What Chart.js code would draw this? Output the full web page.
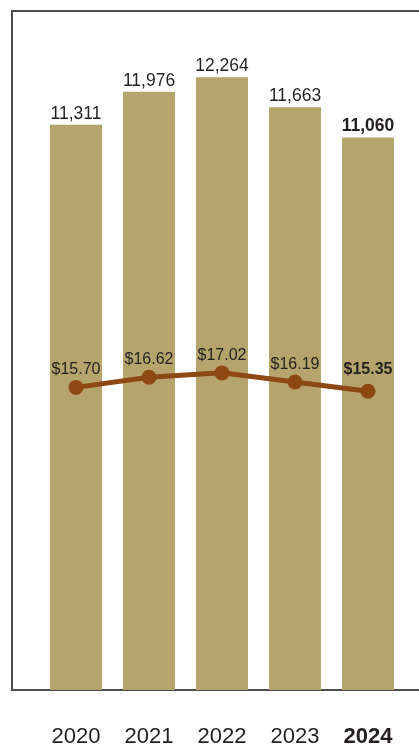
<!DOCTYPE html>
<html>
<head>
<meta charset="utf-8">
<script src="https://cdn.jsdelivr.net/npm/chart.js@4.4.1/dist/chart.umd.min.js"></script>
<style>
  html, body { margin: 0; padding: 0; background: #fff; overflow: hidden; }
  #wrap { position: relative; width: 419px; height: 747px; overflow: hidden; }
  #frame {
    position: absolute; left: 11px; top: 10px; width: 600px; height: 681px;
    box-sizing: border-box; border: 2px solid #4d4d4d;
  }
  #chart { position: absolute; left: 0; top: 0; }
</style>
</head>
<body>
<div id="wrap">
  <div id="frame"></div>
  <canvas id="chart" width="419" height="747"></canvas>
</div>
<script>
    // Yearly figures
    const years = ["2020", "2021", "2022", "2023", "2024"];
    const volumes = [11311, 11976, 12264, 11663, 11060];
    const prices = [15.70, 16.62, 17.02, 16.19, 15.35];

    const fontFamily = "Helvetica, 'Liberation Sans', Arial, sans-serif";
    const lastIndex = years.length - 1;

    // Writes the number above each bar and each point, latest year in bold
    const valueLabels = {
        id: 'valueLabels',
        afterDatasetsDraw(chart) {
            const ctx = chart.ctx;
            ctx.save();
            ctx.textAlign = 'center';
            ctx.textBaseline = 'alphabetic';
            ctx.fillStyle = '#231f20';

            chart.getDatasetMeta(0).data.forEach((bar, i) => {
                ctx.font = (i === lastIndex ? 'bold ' : '') + '17.5px ' + fontFamily;
                ctx.fillText(volumes[i].toLocaleString('en-US'), bar.x, bar.y - 6);
            });

            chart.getDatasetMeta(1).data.forEach((pt, i) => {
                const bold = i === lastIndex;
                ctx.font = (bold ? 'bold ' : '') + '16px ' + fontFamily;
                ctx.fillText('$' + prices[i].toFixed(2), pt.x, pt.y - (bold ? 17 : 13));
            });
            ctx.restore();
        }
    };

    const ctx = document.getElementById('chart').getContext('2d');
    new Chart(ctx, {
        type: 'bar',
        data: {
            labels: years,
            datasets: [{
                type: 'bar',
                label: 'Volume',
                data: volumes,
                backgroundColor: '#b5a46b',
                categoryPercentage: 1,
                barPercentage: 0.712,
                yAxisID: 'y',
                order: 1
            }, {
                type: 'line',
                label: 'Average price',
                data: prices,
                borderColor: '#8d4814',
                backgroundColor: '#8d4814',
                borderWidth: 5,
                pointRadius: 7.5,
                pointBackgroundColor: '#8d4814',
                pointBorderWidth: 0,
                tension: 0,
                yAxisID: 'y2',
                order: 0
            }]
        },
        options: {
            responsive: false,
            animation: false,
            layout: {
                padding: { left: 39.5, right: 14.5, top: 0, bottom: 0 }
            },
            plugins: {
                legend: { display: false },
                tooltip: { enabled: false }
            },
            scales: {
                x: {
                    grid: { display: false, drawTicks: false },
                    border: { display: false },
                    afterFit: function(scale) {
                        // keep the plot bottom where the frame line sits
                        scale.height = 57;
                        scale.paddingLeft = 0;
                        scale.paddingRight = 0;
                    },
                    ticks: {
                        padding: 36,
                        maxRotation: 0,
                        minRotation: 0,
                        autoSkip: false,
                        color: '#231f20',
                        font: function(c) {
                            return {
                                family: fontFamily,
                                size: 22,
                                weight: c.index === lastIndex ? 'bold' : 'normal',
                                lineHeight: 1
                            };
                        }
                    }
                },
                y: { display: false, min: 0, max: 13660 },
                y2: { display: false, min: -11.83, max: 50.26 }
            }
        },
        plugins: [valueLabels]
    });
</script>
</body>
</html>
